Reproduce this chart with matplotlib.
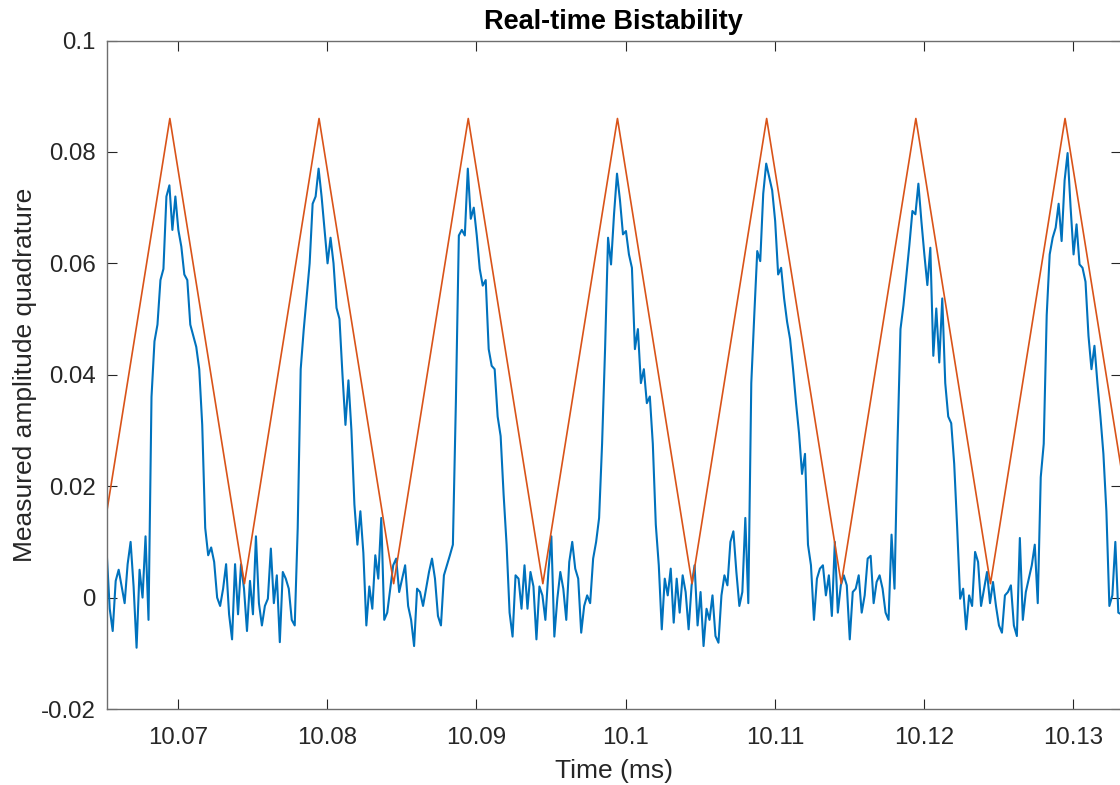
import matplotlib
matplotlib.use("Agg")
import matplotlib.pyplot as plt
import numpy as np

t0 = 10.06522
dt = 0.0002
quadrature = [
    0.008, -0.002, -0.006, 0.003, 0.005, 0.002, -0.001, 0.006, 0.010, 0.002,
    -0.009, 0.005, 0.000, 0.011, -0.004, 0.036, 0.046, 0.049, 0.057, 0.059,
    0.072, 0.074, 0.066, 0.072, 0.066, 0.063, 0.058, 0.057, 0.049, 0.047,
    0.045, 0.041, 0.031, 0.0125, 0.0076, 0.009, 0.0064, 0.000, -0.0015, 0.0016,
    0.006, -0.003, -0.0075, 0.006, -0.003, 0.006, 0.0016, -0.006, 0.003, -0.003,
    0.011, -0.001, -0.005, -0.0015, -0.0002, 0.0088, -0.001, 0.004, -0.008, 0.0046,
    0.0034, 0.0016, -0.004, -0.005, 0.0125, 0.041, 0.048, 0.054, 0.060, 0.0707,
    0.072, 0.077, 0.072, 0.066, 0.060, 0.0646, 0.060, 0.052, 0.050, 0.040,
    0.031, 0.039, 0.030, 0.0167, 0.0095, 0.0155, 0.008, -0.005, 0.002, -0.002,
    0.0076, 0.0034, 0.0143, -0.004, -0.0027, 0.0016, 0.0058, 0.007, 0.001, 0.0034,
    0.0058, -0.0015, -0.004, -0.0087, 0.0016, 0.001, -0.0015, 0.0016, 0.0046, 0.007,
    0.0034, -0.0033, -0.005, 0.004, 0.0058, 0.0076, 0.0095, 0.035, 0.065, 0.066,
    0.065, 0.077, 0.068, 0.070, 0.065, 0.059, 0.056, 0.057, 0.0446, 0.0416,
    0.041, 0.0325, 0.029, 0.0185, 0.0095, -0.0027, -0.007, 0.004, 0.0034, -0.002,
    0.0058, -0.002, 0.0046, 0.002, -0.0075, 0.002, 0.0004, -0.004, 0.0046, 0.011,
    -0.007, -0.0002, 0.0046, 0.0016, -0.004, 0.0064, 0.010, 0.0052, 0.0034, -0.0063,
    -0.0015, 0.0004, -0.001, 0.007, 0.010, 0.0143, 0.0276, 0.0446, 0.0646, 0.0598,
    0.0688, 0.0761, 0.0713, 0.0652, 0.0658, 0.0616, 0.0592, 0.0446, 0.0482, 0.0385,
    0.041, 0.0349, 0.0361, 0.0276, 0.0131, 0.0058, -0.0057, 0.0034, 0.0004, 0.0052,
    -0.0045, 0.0034, -0.0027, 0.004, 0.001, -0.0057, 0.0022, 0.0058, -0.005, 0.001,
    -0.0087, -0.002, -0.004, 0.0004, -0.0069, -0.0081, 0.0004, 0.004, 0.0022, 0.010,
    0.0119, 0.0046, -0.0015, 0.001, 0.0143, -0.001, 0.0385, 0.0507, 0.0622, 0.0604,
    0.0725, 0.0779, 0.0755, 0.0731, 0.0676, 0.058, 0.0592, 0.0537, 0.0495, 0.0464,
    0.041, 0.0349, 0.0295, 0.0222, 0.0258, 0.0095, 0.0058, -0.004, 0.0034, 0.0052,
    0.0058, 0.0004, 0.004, -0.0033, 0.010, -0.0027, 0.0022, 0.004, 0.0022, -0.0075,
    0.001, 0.0016, 0.004, -0.0027, 0.0004, 0.007, 0.0075, -0.001, 0.0028, 0.004,
    0.0016, -0.0027, -0.004, 0.0113, 0.0016, 0.0276, 0.0482, 0.0525, 0.058, 0.0634,
    0.0694, 0.0688, 0.0743, 0.0676, 0.0616, 0.0561, 0.0628, 0.0434, 0.0519, 0.0422,
    0.0537, 0.0385, 0.0325, 0.0313, 0.024, 0.0125, -0.0002, 0.0016, -0.0057, 0.0004,
    -0.0015, 0.0082, 0.0064, -0.0015, 0.0016, 0.0046, -0.001, 0.0028, -0.0015, -0.005,
    -0.0063, 0.0004, 0.001, 0.0022, -0.005, -0.0069, 0.0107, -0.004, 0.001, 0.0034,
    0.0058, 0.0095, -0.001, 0.0216, 0.0276, 0.0507, 0.0616, 0.0646, 0.0664, 0.0707,
    0.064, 0.0749, 0.0798, 0.0701, 0.0616, 0.067, 0.0598, 0.0592, 0.0567, 0.047,
    0.041, 0.0452, 0.0385, 0.0325, 0.0258, 0.0155, -0.0015, 0.0004, 0.010, -0.0027,
    -0.003,
]

# drive ramp: turning points (troughs and peaks)
ramp_t = [10.06445, 10.06945, 10.07445, 10.07945, 10.08445, 10.08945, 10.09445,
          10.09945, 10.10445, 10.10945, 10.11445, 10.11945, 10.12445, 10.12945,
          10.13445]
ramp_v = [0.0025, 0.086, 0.0025, 0.086, 0.0025, 0.086, 0.0025,
          0.086, 0.0025, 0.086, 0.0025, 0.086, 0.0025, 0.086,
          0.0025]

xticks = [10.07, 10.08, 10.09, 10.10, 10.11, 10.12, 10.13]
xtick_labels = ["10.07", "10.08", "10.09", "10.1", "10.11", "10.12", "10.13"]
yticks = [-0.02, 0, 0.02, 0.04, 0.06, 0.08, 0.1]
ytick_labels = ["-0.02", "0", "0.02", "0.04", "0.06", "0.08", "0.1"]

plt.rcParams["font.family"] = ["Liberation Sans", "DejaVu Sans"]

t = t0 + dt * np.arange(len(quadrature))

fig = plt.figure(figsize=(11.2, 7.85), dpi=100)
ax = fig.add_axes([0.0953, 0.0968, 0.9056, 0.8516])

ax.plot(t, quadrature, color="#0072BD", lw=1.5)
ax.plot(ramp_t, ramp_v, color="#D95319", lw=1.2)

ax.set_xlim(10.06522, 10.1332)
ax.set_ylim(-0.02, 0.1)
ax.set_xticks(xticks)
ax.set_xticklabels(xtick_labels)
ax.set_yticks(yticks)
ax.set_yticklabels(ytick_labels)

ax.tick_params(direction="in", length=7, width=0.8, colors="#262626",
               labelsize=17.3, top=True, right=True)
ax.tick_params(axis="x", pad=13)
ax.tick_params(axis="y", pad=8)
for s in ax.spines.values():
    s.set_color("#6e6e6e")
    s.set_linewidth(1.0)

ax.set_title("Real-time Bistability", fontsize=19.5, fontweight="bold",
             color="black", pad=8)
ax.set_xlabel("Time (ms)", fontsize=19, color="#262626", labelpad=7)
ax.set_ylabel("Measured amplitude quadrature", fontsize=19, color="#262626",
              labelpad=3)

fig.savefig("out.png", dpi=100)
